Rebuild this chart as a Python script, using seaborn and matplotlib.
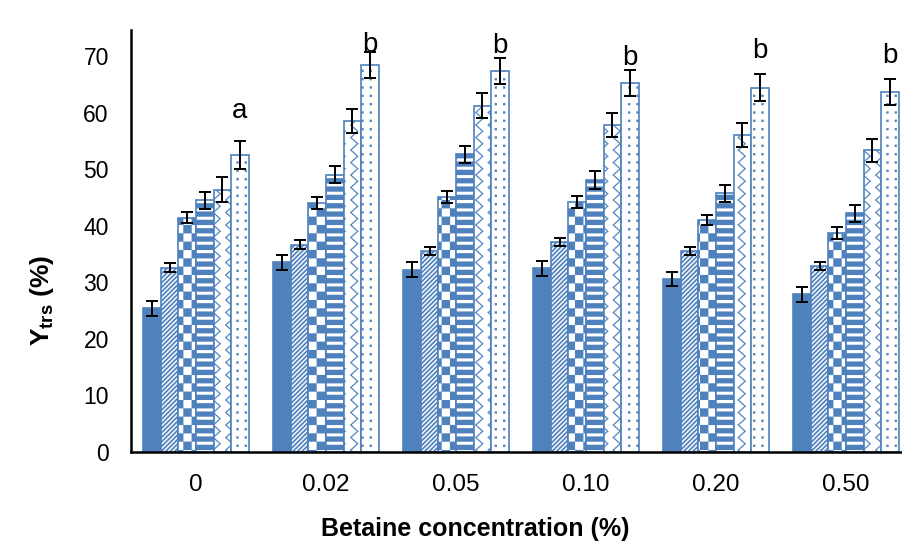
import warnings
import numpy as np
import pandas as pd
import matplotlib
matplotlib.use("Agg")
import matplotlib.pyplot as plt
import matplotlib.hatch as mhatch
from matplotlib.path import Path
from matplotlib.container import BarContainer
import seaborn as sns

warnings.filterwarnings("ignore")

# ---------------- data ----------------
concentrations = ["0", "0.02", "0.05", "0.10", "0.20", "0.50"]
series_names = ["Series 1", "Series 2", "Series 3", "Series 4", "Series 5", "Series 6"]

series1 = [25.4, 33.5, 32.2, 32.5, 30.6, 27.9]
series2 = [32.6, 36.6, 35.6, 37.2, 35.6, 32.9]
series3 = [41.4, 44.0, 45.1, 44.2, 41.0, 38.7]
series4 = [44.5, 49.0, 52.6, 48.1, 45.7, 42.2]
series5 = [46.4, 58.5, 61.2, 57.8, 56.0, 53.3]
series6 = [52.5, 68.4, 67.3, 65.3, 64.4, 63.6]

err1 = [1.3, 1.3, 1.3, 1.3, 1.3, 1.3]
err2 = [0.8, 0.8, 0.7, 0.7, 0.7, 0.7]
err3 = [1.0, 1.0, 1.0, 1.0, 0.95, 1.0]
err4 = [1.5, 1.5, 1.5, 1.6, 1.5, 1.5]
err5 = [2.2, 2.1, 2.2, 2.2, 2.1, 2.1]
err6 = [2.4, 2.3, 2.3, 2.3, 2.4, 2.3]

letters = ["a", "b", "b", "b", "b", "b"]
letter_y = [59.0, 70.7, 70.5, 68.4, 69.6, 68.8]

all_means = [series1, series2, series3, series4, series5, series6]
all_errs = [err1, err2, err3, err4, err5, err6]

df = pd.DataFrame({
    "Betaine": [c for _ in series_names for c in concentrations],
    "Series": [s for s in series_names for _ in concentrations],
    "Ytrs": [v for vals in all_means for v in vals],
})

# ---------------- custom fill patterns ----------------
class _PolyHatch(mhatch.HatchPatternBase):
    key = None

    def __init__(self, hatch, density):
        self.filled = True
        self._polys = self.make_polys() if (hatch and self.key in hatch) else []
        self.num_vertices = sum(len(p) + 1 for p in self._polys)

    def make_polys(self):
        return []

    def set_vertices_and_codes(self, vertices, codes):
        k = 0
        for p in self._polys:
            n = len(p)
            vertices[k:k + n] = p
            vertices[k + n] = p[0]
            codes[k] = Path.MOVETO
            codes[k + 1:k + n] = Path.LINETO
            codes[k + n] = Path.CLOSEPOLY
            k += n + 1


class CheckerHatch(_PolyHatch):
    key = "c"

    def make_polys(self):
        n = 12
        s = 1.0 / n
        return [[(i * s, j * s), ((i + 1) * s, j * s), ((i + 1) * s, (j + 1) * s), (i * s, (j + 1) * s)]
                for i in range(n) for j in range(n) if (i + j) % 2 == 0]


class DiagHatch(_PolyHatch):
    key = "d"

    def make_polys(self):
        n = 22
        w = 0.5 / n
        polys = []
        for k in range(-n - 1, n + 1):
            c = k / n
            polys.append([(0, c), (1, c + 1), (1, c + 1 + w), (0, c + w)])
        return polys


class HorizHatch(_PolyHatch):
    key = "h"

    def make_polys(self):
        n = 12
        s = 1.0 / n
        f = 0.62
        return [[(0, j * s), (1, j * s), (1, j * s + f * s), (0, j * s + f * s)] for j in range(n)]


class ZigHatch(_PolyHatch):
    key = "z"

    def make_polys(self):
        m = 8
        s = 1.0 / m
        a = 0.55 * s
        t = 0.016
        polys = []
        for c in range(-1, m + 1):
            x0 = c * s
            for r in range(m):
                y0 = r * s
                pts = [(x0, y0), (x0 + a, y0 + s / 2), (x0, y0 + s)]
                for (xa, ya), (xb, yb) in zip(pts[:-1], pts[1:]):
                    polys.append([(xa, ya), (xb, yb), (xb + t, yb), (xa + t, ya)])
        return polys


class DotHatch(_PolyHatch):
    key = "p"

    def make_polys(self):
        n = 12
        s = 1.0 / n
        d = 0.022
        polys = []
        for i in range(n):
            for j in range(n):
                x, y = i * s + s / 2, j * s + s / 2
                polys.append([(x - d / 2, y - d / 2), (x + d / 2, y - d / 2),
                              (x + d / 2, y + d / 2), (x - d / 2, y + d / 2)])
        return polys


for cls in (CheckerHatch, DiagHatch, HorizHatch, ZigHatch, DotHatch):
    mhatch._hatch_types.append(cls)

# ---------------- style ----------------
sns.set_style("white")
blue = "#4F81BD"
plt.rcParams["font.family"] = ["Liberation Sans", "DejaVu Sans"]
plt.rcParams["mathtext.fontset"] = "custom"
plt.rcParams["mathtext.rm"] = "Liberation Sans"
plt.rcParams["mathtext.bf"] = "Liberation Sans:bold"
plt.rcParams["hatch.linewidth"] = 0.1
plt.rcParams["hatch.color"] = blue
plt.rcParams["text.color"] = "black"
plt.rcParams["axes.labelcolor"] = "black"
plt.rcParams["xtick.color"] = "black"
plt.rcParams["ytick.color"] = "black"

fig = plt.figure(figsize=(9.02, 5.48), dpi=100)
ax = fig.add_axes([131 / 902, 96 / 548, 780 / 902, 422 / 548])

sns.barplot(data=df, x="Betaine", y="Ytrs", hue="Series",
            order=concentrations, hue_order=series_names,
            palette=["white"] * 6, width=0.81, gap=0,
            errorbar=None, legend=False, ax=ax)

bar_conts = [c for c in ax.containers if isinstance(c, BarContainer)]
hatches = [None, "d", "c", "h", "z", "p"]
for i, cont in enumerate(bar_conts):
    for p in cont.patches:
        p.set_edgecolor(blue)
        p.set_linewidth(1.2)
        if i == 0:
            p.set_facecolor(blue)
        else:
            p.set_facecolor("white")
            p.set_hatch(hatches[i])
    xs = [p.get_x() + p.get_width() / 2 for p in cont.patches]
    ax.errorbar(xs, all_means[i], yerr=all_errs[i], fmt="none", ecolor="black",
                elinewidth=1.4, capsize=4.3, capthick=1.4, zorder=5)

last = bar_conts[5].patches
for p, lab, ly in zip(last, letters, letter_y):
    ax.text(p.get_x() + p.get_width() / 2, ly, lab, ha="center", va="baseline",
            fontsize=20, color="black")

ax.set_ylim(0, 74.6)
ax.set_xlim(-0.5, 5.5)
ax.set_yticks(np.arange(0, 80, 10))
ax.tick_params(axis="y", direction="in", length=5, width=1.5, labelsize=16.5, pad=16,
               colors="black", labelcolor="black")
ax.tick_params(axis="x", length=0, labelsize=17.5, pad=16, colors="black", labelcolor="black")

sns.despine(ax=ax)
for side in ("left", "bottom"):
    ax.spines[side].set_color("black")
    ax.spines[side].set_linewidth(1.8)

ax.set_xlabel("Betaine concentration (%)", fontsize=18, fontweight="bold", color="black")
ax.set_ylabel(r"$\mathbf{Y_{trs}}$ (%)", fontsize=19, fontweight="bold", color="black")
ax.xaxis.set_label_coords((475 - 131) / 780, -(517 - 452) / 422)
ax.yaxis.set_label_coords(-(131 - 56) / 780, (452 - 300) / 422)

fig.savefig("out.png", dpi=100, facecolor="white")
